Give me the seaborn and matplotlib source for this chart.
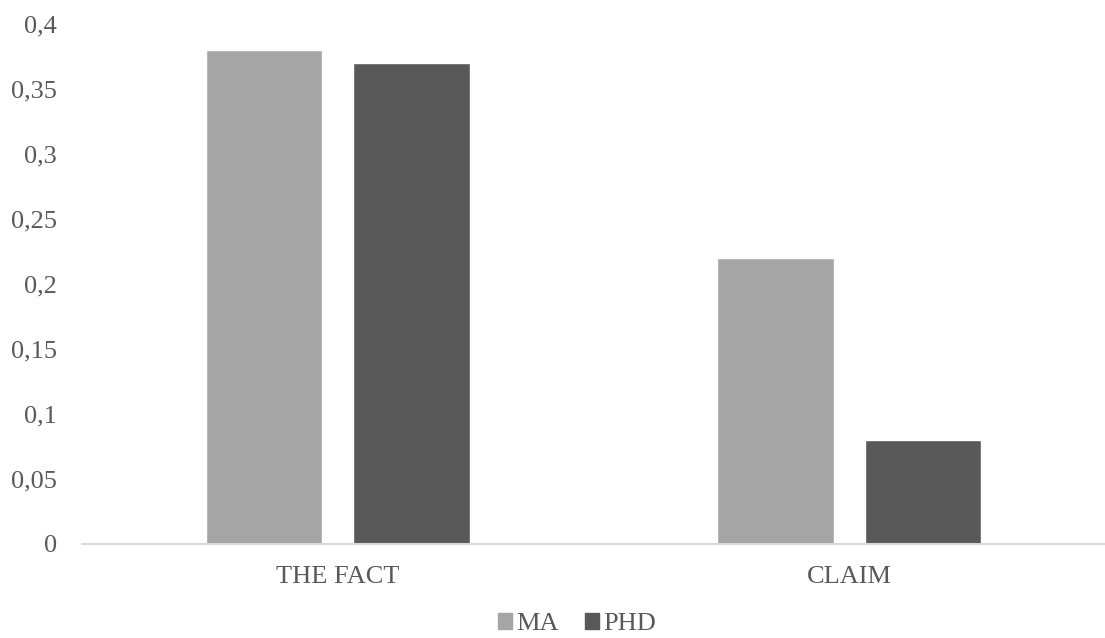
import matplotlib
matplotlib.use("Agg")
import matplotlib.pyplot as plt
import seaborn as sns
import pandas as pd

categories = ["THE FACT", "CLAIM"]
groups = ["MA", "PHD"]
ma_values = [0.38, 0.22]
phd_values = [0.37, 0.08]
y_ticks = [0, 0.05, 0.1, 0.15, 0.2, 0.25, 0.3, 0.35, 0.4]

sns.set_style("white")
plt.rcParams["font.family"] = ["Liberation Serif", "DejaVu Serif"]

df = pd.DataFrame({
    "category": categories * 2,
    "group": [groups[0]] * len(categories) + [groups[1]] * len(categories),
    "value": ma_values + phd_values,
})

fig = plt.figure(figsize=(11.05, 6.38), dpi=100)
ax = fig.add_axes([82 / 1105, (638 - 543.5) / 638, 1 - 82 / 1105, (543.5 - 24) / 638])

sns.barplot(data=df, x="category", y="value", hue="group", order=categories,
            hue_order=groups, palette=["#A5A5A5", "#595959"], saturation=1,
            width=0.577, gap=0.21, ax=ax, legend=False)

ax.set_ylim(0, 0.4)
ax.set_xlim(-0.5, len(categories) - 0.5)
ax.set_yticks(y_ticks)
ax.set_yticklabels([("%g" % t).replace(".", ",") for t in y_ticks])
ax.set_xlabel("")
ax.set_ylabel("")
for s in ["top", "right", "left"]:
    ax.spines[s].set_visible(False)
ax.spines["bottom"].set_color("#D9D9D9")
ax.spines["bottom"].set_linewidth(1.5)
ax.tick_params(axis="both", length=0, labelsize=19, colors="#595959")
ax.tick_params(axis="y", pad=18)
ax.tick_params(axis="x", pad=16)

handles = [plt.Rectangle((0, 0), 1, 1, color=c) for c in ["#A5A5A5", "#595959"]]
fig.legend(handles, groups, loc="center", bbox_to_anchor=(0.522, 0.022),
           ncol=2, frameon=False, fontsize=19, handlelength=0.55,
           handleheight=0.55, handletextpad=0.15, columnspacing=1.0,
           labelcolor="#595959", borderpad=0)

fig.savefig("out.png", dpi=100)
